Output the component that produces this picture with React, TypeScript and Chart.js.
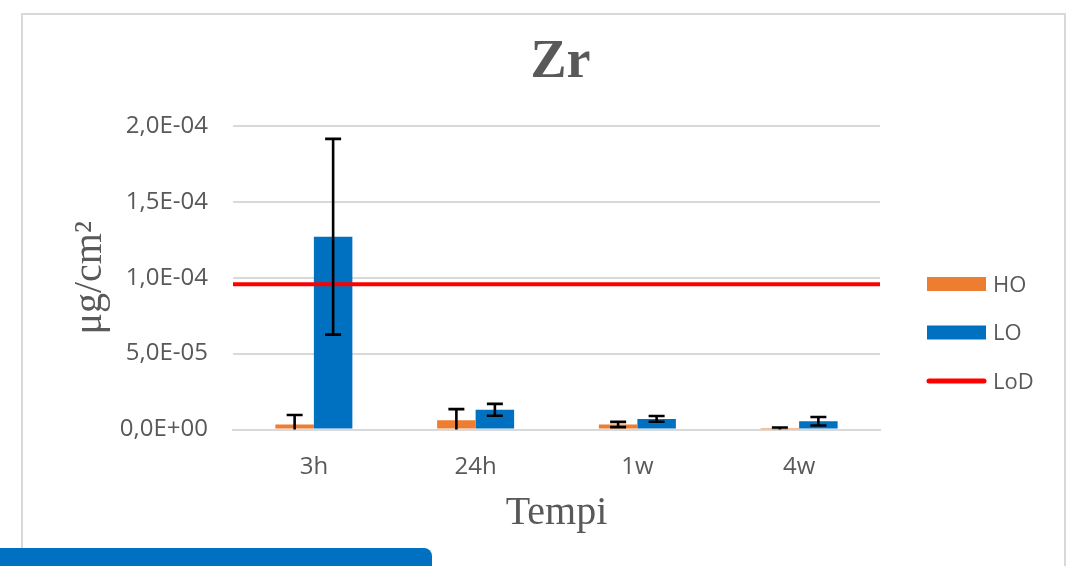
import { useEffect, useRef } from 'react';
import { Chart, registerables } from 'chart.js';

Chart.register(...registerables);

// Zr release over time, two surface treatments, with the limit of detection
const TITLE = 'Zr';
const CATEGORIES = ['3h', '24h', '1w', '4w'];
const HO_VALUES = [3.3e-6, 6.1e-6, 3.3e-6, 1e-7];
const HO_ERRORS = [6.3e-6, 7.3e-6, 1.75e-6, 1.2e-6];
const LO_VALUES = [1.27e-4, 1.3e-5, 7.0e-6, 5.4e-6];
const LO_ERRORS = [6.45e-5, 3.9e-6, 1.85e-6, 2.8e-6];
const LOD_LABEL = 'LoD';
const LOD_VALUE = 9.57e-5;
const Y_TICK_LABELS = ['0,0E+00', '5,0E-05', '1,0E-04', '1,5E-04', '2,0E-04'];

const TEXT_COLOR = '#595959';
const GRID_COLOR = '#d9d9d9';
const ORANGE = '#ED7D31';
const BLUE = '#0070C0';
const RED = '#FF0000';
const SANS = '"Open Sans", "Noto Sans", sans-serif';
const SERIF = '"Liberation Serif", "DejaVu Serif", serif';

// Limit-of-detection line across the whole plot, then symmetric error bars
// over each bar, all clipped to the plot area
const overlays = {
  id: 'overlays',
  afterDatasetsDraw(chart: any) {
    const { ctx, chartArea } = chart;
    const yScale = chart.scales.y;
    ctx.save();
    ctx.beginPath();
    ctx.rect(chartArea.left, chartArea.top, chartArea.right - chartArea.left, chartArea.bottom - chartArea.top);
    ctx.clip();

    const yLod = yScale.getPixelForValue(LOD_VALUE);
    ctx.strokeStyle = RED;
    ctx.lineWidth = 4;
    ctx.beginPath();
    ctx.moveTo(chartArea.left, yLod);
    ctx.lineTo(chartArea.right, yLod);
    ctx.stroke();

    ctx.strokeStyle = '#000000';
    ctx.lineWidth = 2.6;
    chart.data.datasets.forEach((ds: any, di: number) => {
      if (!ds.errors) return;
      const meta = chart.getDatasetMeta(di);
      meta.data.forEach((bar: any, i: number) => {
        const v = ds.data[i];
        const e = ds.errors[i];
        const yTop = yScale.getPixelForValue(v + e);
        const yBot = yScale.getPixelForValue(v - e);
        const x = bar.x;
        const half = 8;
        ctx.beginPath();
        ctx.moveTo(x, yTop);
        ctx.lineTo(x, yBot);
        ctx.moveTo(x - half, yTop);
        ctx.lineTo(x + half, yTop);
        ctx.moveTo(x - half, yBot);
        ctx.lineTo(x + half, yBot);
        ctx.stroke();
      });
    });
    ctx.restore();
  },
};

// Heading above the plot and the key on its right
const headerAndKey = {
  id: 'headerAndKey',
  afterDraw(chart: any) {
    const { ctx, chartArea } = chart;
    ctx.save();
    ctx.fillStyle = TEXT_COLOR;
    ctx.font = `bold 54px ${SERIF}`;
    ctx.textAlign = 'center';
    ctx.textBaseline = 'alphabetic';
    ctx.fillText(TITLE, chartArea.left + 327.5, chartArea.top - 49);

    const swatchX = chartArea.right + 47;
    const swatchW = 59;
    const rowTop = chartArea.top + 158;
    const rowGap = 48.5;
    ctx.font = `22px ${SANS}`;
    ctx.textAlign = 'left';
    ctx.textBaseline = 'middle';
    const entries = chart.data.datasets.map((ds: any) => ({ label: ds.label, color: ds.backgroundColor, line: false }));
    entries.push({ label: LOD_LABEL, color: RED, line: true });
    entries.forEach((entry: any, i: number) => {
      const cy = rowTop + i * rowGap;
      if (entry.line) {
        ctx.strokeStyle = entry.color;
        ctx.lineWidth = 5;
        ctx.lineCap = 'round';
        ctx.beginPath();
        ctx.moveTo(swatchX + 2, cy);
        ctx.lineTo(swatchX + swatchW - 2, cy);
        ctx.stroke();
      } else {
        ctx.fillStyle = entry.color;
        ctx.fillRect(swatchX, cy - 7, swatchW, 14);
      }
      ctx.fillStyle = TEXT_COLOR;
      ctx.fillText(entry.label, swatchX + swatchW + 7, cy + 1.5);
    });
    ctx.restore();
  },
};

function ZrChart() {
  const canvasRef = useRef<HTMLCanvasElement | null>(null);

  useEffect(() => {
    if (!canvasRef.current) return;
    const chart = new Chart(canvasRef.current, {
      type: 'bar',
      data: {
        labels: CATEGORIES,
        datasets: [
          {
            label: 'HO',
            data: HO_VALUES,
            errors: HO_ERRORS,
            backgroundColor: ORANGE,
            borderWidth: 0,
            categoryPercentage: 0.476,
            barPercentage: 1,
          } as any,
          {
            label: 'LO',
            data: LO_VALUES,
            errors: LO_ERRORS,
            backgroundColor: BLUE,
            borderWidth: 0,
            categoryPercentage: 0.476,
            barPercentage: 1,
          } as any,
        ],
      },
      options: {
        animation: false,
        responsive: false,
        maintainAspectRatio: false,
        layout: { padding: { top: 126, right: 189, bottom: 0, left: 0 } },
        plugins: {
          legend: { display: false },
          title: { display: false },
          tooltip: { enabled: false },
        },
        scales: {
          x: {
            type: 'category',
            offset: true,
            grid: { display: false, drawTicks: false },
            border: { display: true, color: GRID_COLOR, width: 2 },
            ticks: { color: TEXT_COLOR, font: { family: SANS, size: 24 }, padding: 23 },
            title: {
              display: true,
              text: 'Tempi',
              color: TEXT_COLOR,
              font: { family: SERIF, size: 40 },
              padding: { top: 0, bottom: 29 },
            },
            afterFit(scale: any) {
              scale.height = 136.5;
            },
          },
          y: {
            type: 'linear',
            min: 0,
            max: 2e-4,
            ticks: {
              stepSize: 5e-5,
              color: TEXT_COLOR,
              font: { family: SANS, size: 24 },
              padding: 25,
              callback: (_v: any, i: number) => Y_TICK_LABELS[i],
            },
            grid: { color: GRID_COLOR, lineWidth: 2, drawTicks: false },
            border: { display: false },
            title: {
              display: true,
              text: 'μg/cm²',
              color: TEXT_COLOR,
              font: { family: SERIF, size: 40 },
              padding: { top: 66, bottom: 0 },
            },
            afterFit(scale: any) {
              scale.width = 233;
            },
          },
        } as any,
      },
      plugins: [overlays, headerAndKey],
    });
    return () => chart.destroy();
  }, []);

  return (
    <canvas
      ref={canvasRef}
      width={1069}
      height={566}
      style={{ position: 'absolute', left: 0, top: 0, width: 1069, height: 566 }}
    />
  );
}

export default function App() {
  return (
    <div
      style={{
        position: 'absolute',
        left: 0,
        top: 0,
        width: 1069,
        height: 566,
        overflow: 'hidden',
        background: '#ffffff',
      }}
    >
      <div
        style={{
          position: 'absolute',
          left: 21,
          top: 13,
          width: 1045,
          height: 620,
          border: `2px solid ${GRID_COLOR}`,
          boxSizing: 'border-box',
        }}
      />
      <ZrChart />
      <div
        style={{
          position: 'absolute',
          left: 0,
          top: 548,
          width: 432,
          height: 40,
          background: BLUE,
          borderTopRightRadius: 8,
        }}
      />
    </div>
  );
}
